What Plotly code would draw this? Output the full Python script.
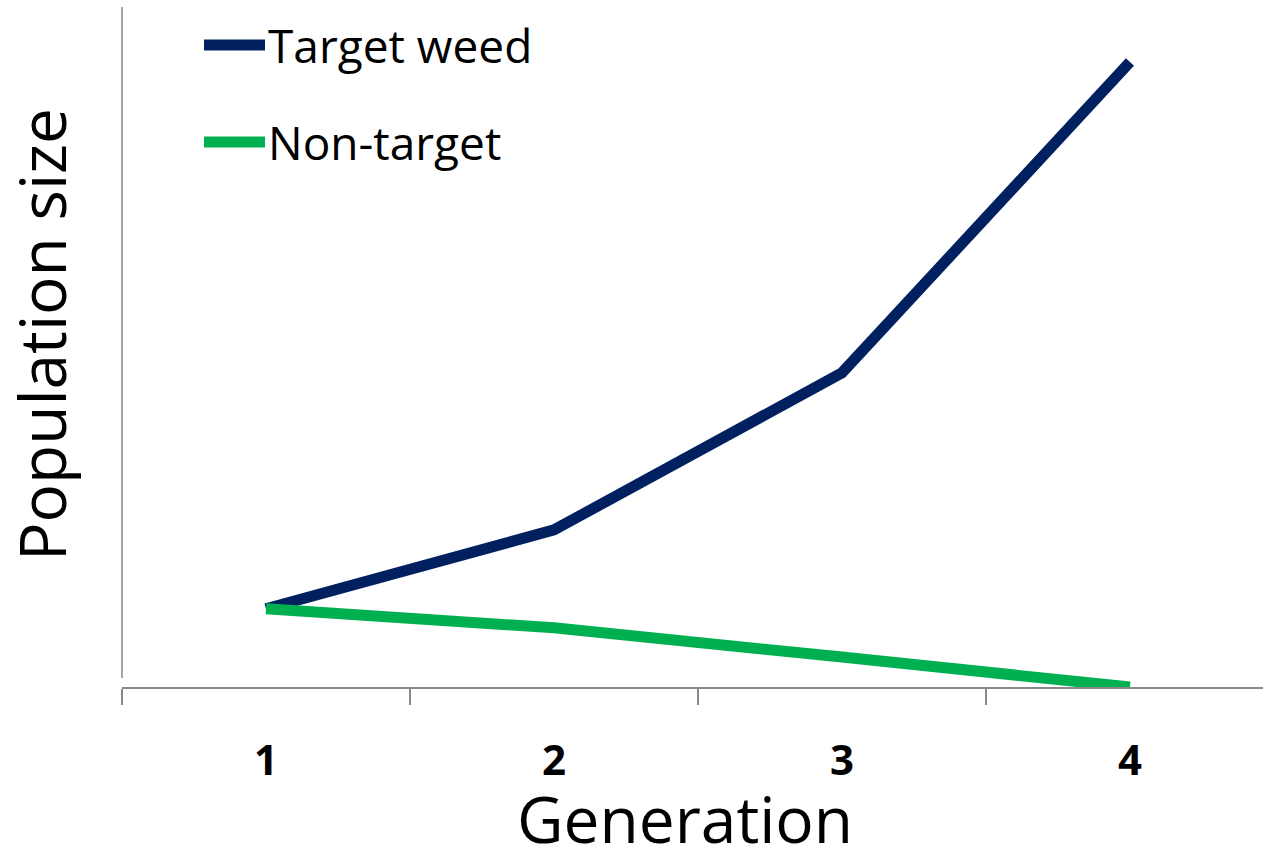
import plotly.graph_objects as go

generations = [1, 2, 3, 4]
tick_labels = ["1", "2", "3", "4"]
target_weed = [11.5, 23.1, 46.2, 91.9]
non_target = [11.5, 8.7, 4.4, 0.0]
series_names = ["Target weed", "Non-target"]
colors = ["#002060", "#00B050"]
axis_color = "#898989"
FONT = "'Open Sans', sans-serif"

fig = go.Figure()
for name, vals, col in zip(series_names, [target_weed, non_target], colors):
    fig.add_trace(go.Scatter(
        x=generations, y=vals, mode="lines", name=name,
        line=dict(color=col, width=11), showlegend=False,
    ))

fig.update_layout(
    width=1263, height=853,
    margin=dict(l=122, r=0, t=7, b=166),
    paper_bgcolor="white", plot_bgcolor="white",
    font=dict(family=FONT, color="black"),
    xaxis=dict(
        range=[0.5, 4.462], tickvals=generations, ticktext=tick_labels,
        showgrid=False, zeroline=False, showline=True, linecolor=axis_color, linewidth=1.5,
        ticks="", ticklabelstandoff=36,
        tickfont=dict(family=FONT, size=42, color="black", weight="bold"),
        minor=dict(tickvals=[0.5, 1.5, 2.5, 3.5], ticks="outside", ticklen=16,
                   tickwidth=1.5, tickcolor=axis_color, showgrid=False),
    ),
    yaxis=dict(range=[0, 100], showgrid=False, zeroline=False, showline=False,
               showticklabels=False, ticks=""),
)

# y axis line (stops slightly above the x axis as in the reference)
fig.add_shape(type="line", xref="paper", yref="paper", x0=0, x1=0, y0=9/680, y1=1,
              line=dict(color=axis_color, width=1.5))

# axis titles
fig.add_annotation(text="Generation", xref="paper", yref="paper", x=(685-122)/1141, y=-(818-687)/680,
                   showarrow=False, xanchor="center", yanchor="middle",
                   font=dict(family=FONT, size=64, color="black"))
fig.add_annotation(text="Population size", xref="paper", yref="paper", x=-(122-42)/1141, y=(687-335)/680,
                   showarrow=False, xanchor="center", yanchor="middle", textangle=-90,
                   font=dict(family=FONT, size=64, color="black"))

# legend
legend_y = [45, 142]
for name, col, ly in zip(series_names, colors, legend_y):
    yp = (687 - ly) / 680
    fig.add_shape(type="line", xref="paper", yref="paper",
                  x0=(204-122)/1141, x1=(265-122)/1141, y0=yp, y1=yp,
                  line=dict(color=col, width=11))
    fig.add_annotation(text=name, xref="paper", yref="paper", x=(266-122)/1141, y=yp,
                       showarrow=False, xanchor="left", yanchor="middle",
                       font=dict(family=FONT, size=46, color="black"))

fig.write_html("out.html")
